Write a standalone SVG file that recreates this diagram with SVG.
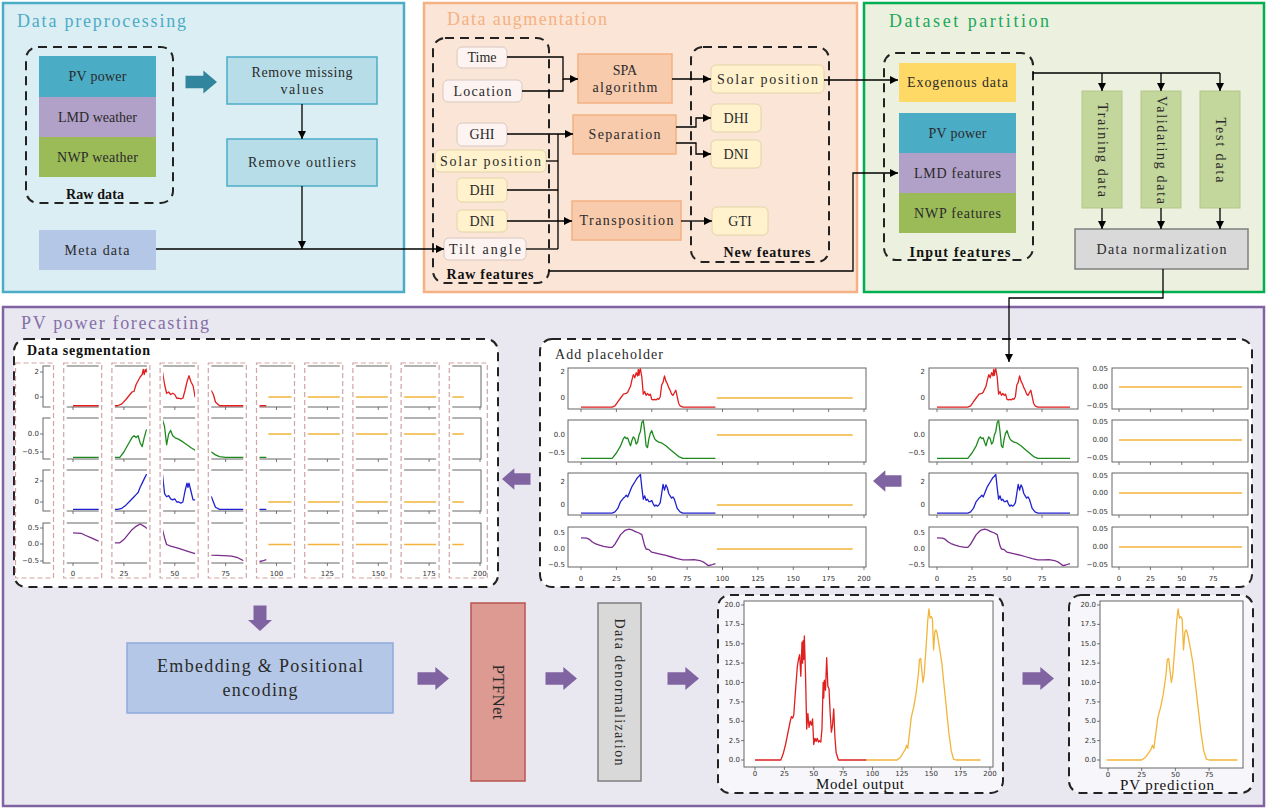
<svg xmlns="http://www.w3.org/2000/svg" xmlns:xlink="http://www.w3.org/1999/xlink" width="1267" height="809" viewBox="0 0 1267 809">
<defs>
<style>
text{font-family:"Liberation Serif","DejaVu Serif",serif;fill:#2a2a2a}
.t12{font-size:14px}
.bold{font-weight:bold;fill:#111}
.ttl{font-size:18px}
.c{text-anchor:middle;dominant-baseline:central}
.tk{font-family:"DejaVu Sans",sans-serif;font-size:7px;fill:#333}
.ty{text-anchor:end;dominant-baseline:central}
.tx{text-anchor:middle}
.ln{fill:none;stroke:#000;stroke-width:1.3}
.dsh{fill:none;stroke:#222;stroke-width:2;stroke-dasharray:9 6}
.dshw{fill:#fff;stroke:#222;stroke-width:2;stroke-dasharray:9 6}
.dshl{fill:#f7f6fa;stroke:#222;stroke-width:2;stroke-dasharray:9 6}
.ax{fill:#fff;stroke:#666;stroke-width:1}
.axn{fill:none;stroke:#666;stroke-width:1}
.col{fill:none;stroke:#d4a3a3;stroke-width:1.2;stroke-dasharray:5 3}
.s{fill:none;stroke-width:1.3;stroke-linejoin:round}
.r{stroke:#e01f1f}.g{stroke:#1e8a1e}.b{stroke:#2020d0}.p{stroke:#7a2d8c}.y{stroke:#f2b53a}
.pa{fill:#8064a2}
.tick{stroke:#555;stroke-width:0.8;fill:none}
.wb{fill:#fdf3f0;stroke:#d8c8c2;stroke-width:1}
.yb{fill:#fff2cc;stroke:#e3d4a8;stroke-width:1}
.ob{fill:#f8cbad;stroke:#f4b183;stroke-width:1.5}
.gb{fill:#c3d69b;stroke:#b3c78a;stroke-width:1}
</style>
<marker id="ah" viewBox="0 0 8 8" refX="8" refY="4" markerWidth="8" markerHeight="8" markerUnits="userSpaceOnUse" orient="auto">
<path d="M0,0 L8,4 L0,8 z" fill="#000"/>
</marker>
<path id="blk" d="M-30,-6.5 H-13 V-12 L0,0 L-13,12 V6.5 H-30 Z"/>
<polyline id="sR" vector-effect="non-scaling-stroke" points="0,-0.7 22,-0.7 24,-0.6 26,-0.3 28,0 30,0.3 32,0.35 33,0.45 35,0.9 36,1.4 37,1.8 38,1.55 39,1.95 40,1.7 40.5,2.2 41,1.75 41.5,2.1 42,2.25 43,1.6 44,0.3 45,0.5 46,0.2 47,0.35 48,0.2 49,0.3 50,-0.1 51,-0.15 52,-0.1 53,-0.15 54,-0.05 55,-0.1 56,0.1 57,1.0 58,1.2 59,1.7 60,1.3 61,1.1 62,0.8 63,0.6 64,0.3 65,0.2 66,0.4 67,0.6 68,0.1 69,-0.4 70,-0.6 72,-0.7 95,-0.7"/>
<polyline id="sG" vector-effect="non-scaling-stroke" points="0,-0.65 22,-0.65 25,-0.5 28,-0.3 30,-0.1 31,-0.05 32,-0.1 33,-0.08 34,-0.2 35,-0.3 36,-0.15 37,-0.05 38,-0.1 39,-0.25 40,-0.2 41,0 42,0.1 43,0.35 44,0.4 45,0.1 46,-0.3 47,-0.35 48,-0.1 49,0.05 50,0.12 51,0 52,-0.1 53,-0.15 55,-0.2 57,-0.22 60,-0.3 63,-0.4 66,-0.5 69,-0.6 72,-0.65 95,-0.65"/>
<polyline id="sB" vector-effect="non-scaling-stroke" points="0,-0.7 22,-0.7 24,-0.6 26,-0.3 28,0.3 30,0.6 31,0.7 32,0.85 33,0.7 34,1.0 36,1.6 38,2.0 40,2.4 41,2.5 42,2.65 43,1.5 44,0.5 45,0.8 46,0.4 47,0.5 48,0.3 49,0.3 50,0.4 51,0.1 52,-0.1 53,0 54,-0.1 55,0 56,0.2 57,1.0 58,1.8 59,1.3 60,1.75 61,1.5 62,1.0 63,0.8 64,0.6 65,0.7 66,0.5 67,0.1 68,-0.3 70,-0.6 72,-0.7 95,-0.7"/>
<polyline id="sP" vector-effect="non-scaling-stroke" points="0,0.35 4,0.34 6,0.3 8,0.22 10,0.17 13,0.12 16,0.08 20,0.05 22,0.05 24,0.15 26,0.3 28,0.45 31,0.58 34,0.62 36,0.6 38,0.55 41,0.5 43,0.45 45,0.1 46,0 48,-0.02 50,-0.1 53,-0.13 56,-0.16 60,-0.2 64,-0.25 68,-0.3 72,-0.34 76,-0.34 80,-0.33 84,-0.36 87,-0.42 90,-0.52 92,-0.5 95,-0.46"/>
<polyline id="sY" vector-effect="non-scaling-stroke" points="96,0 192,0"/>
<polyline id="qR" vector-effect="non-scaling-stroke" points="0,-0.7 22,-0.7 24,-0.55 26,-0.2 28,0.2 29,0.4 30,0.45 31,1.0 32,1.3 33,1.6 34,1.8 34.5,2.2 35,1.8 35.5,2.2 36,2.0 36.5,2.3 44,2.0 45,1.0 46,0.3 47,0.4 48,0.2 49,0.3 50,0.2 51,-0.1 52,-0.1 53,-0.15 54,-0.1 55,0.5 56,1.2 57,1.7 58,1.2 59,0.9 60,0 68,0.5 69,0.2 70,-0.4 72,-0.7 95,-0.7"/>
<polyline id="qG" vector-effect="non-scaling-stroke" points="0,-0.65 23,-0.65 25,-0.5 27,-0.3 29,-0.1 30,-0.05 31,-0.1 32,-0.05 33,-0.25 34,-0.35 35,-0.1 36,0.1 44,0.4 45,0.2 46,-0.3 47,0 48,0.1 49,-0.05 50,-0.1 52,-0.15 54,-0.22 56,-0.3 58,-0.38 60,-0.45 68,-0.5 70,-0.58 72,-0.63 75,-0.65 95,-0.65"/>
<polyline id="qB" vector-effect="non-scaling-stroke" points="0,-0.7 22,-0.7 24,-0.6 26,-0.3 28,0.1 30,0.5 31,0.7 32,0.9 33,1.4 34,1.8 35,2.2 36,2.6 44,2.6 45,0.8 46,0.5 47,0.6 48,0.3 49,0.2 50,0.3 51,0 52,0 53,-0.1 54,0 55,1.0 56,1.8 56.5,1.4 57,1.8 58,1.0 59,0.2 60,0.2 68,0.5 69,0 70,-0.5 72,-0.7 95,-0.7"/>
<polyline id="qP" vector-effect="non-scaling-stroke" points="0,0.35 4,0.34 6,0.28 9,0.2 12,0.12 14,0.08 21,0.05 23,0.05 25,0.15 27,0.3 29,0.45 31,0.55 33,0.62 35,0.55 36,0.5 44,0.45 45,0.2 46,0 48,-0.05 52,-0.12 56,-0.2 60,-0.28 68,-0.32 74,-0.34 78,-0.35 81,-0.4 84,-0.5 91,-0.52 93,-0.5 95,-0.46"/>
<polyline id="kR" vector-effect="non-scaling-stroke" points="0,0 22,0 24,0.8 26,2 28,3.5 30,5 31,5.6 32,5.4 33,5.8 34,8 35,10 36,12 37,13 38,13.6 39,10.8 40,15.2 40.5,12.5 41,15.4 41.5,13 42,16 43,11 44,4 45,6 46,4.2 47,5 48,4.5 49,5.3 50,2 51,2.8 52,2.4 53,2.8 54,2.3 55,2.5 56,2.3 57,4 58,10 58.5,8 59,10.3 60,9 61,13.2 62,9.5 63,9.2 64,6 65,3.6 66,4.5 67,6.6 68,3 69,1 71,0 95,0"/>
<polyline id="kY" vector-effect="non-scaling-stroke" points="95,0 121,0 124,0.4 126,0.9 128,1.4 129,1.9 130,1.5 131,2.8 133,5.5 135,6.8 137,8.5 139,11 140,13 141,13.1 142,11.5 143,10 144,11 146,15.5 147,18 148,19.5 149,18.3 150,18.5 151,18.2 152,14.2 153,16.5 154,16.8 155,16.3 157,14.5 159,12.5 161,9.5 163,6.5 165,3.5 167,1.2 169,0.1 171,0 192,0"/>
<path id="tkS" d="M73,0v3M123.9,0v3M174.8,0v3M225.6,0v3M276.5,0v3M327.4,0v3M378.3,0v3M429.1,0v3M480,0v3"/>
<path id="tkA" d="M581,0v3M616.4,0v3M651.8,0v3M687.1,0v3M722.5,0v3M757.9,0v3M793.3,0v3M828.6,0v3M864,0v3"/>
<path id="tkL" d="M937,0v3M972,0v3M1007,0v3M1042,0v3"/>
<path id="tkR" d="M1119,0v3M1150.4,0v3M1181.8,0v3M1213.2,0v3"/>
<clipPath id="segClip">
<rect x="18.5" y="364" width="32" height="211"/>
<rect x="66.7" y="364" width="32" height="211"/>
<rect x="114.9" y="364" width="32" height="211"/>
<rect x="163.1" y="364" width="32" height="211"/>
<rect x="211.3" y="364" width="32" height="211"/>
<rect x="259.5" y="364" width="32" height="211"/>
<rect x="307.7" y="364" width="32" height="211"/>
<rect x="355.9" y="364" width="32" height="211"/>
<rect x="404.1" y="364" width="32" height="211"/>
<rect x="452.3" y="364" width="32" height="211"/>
</clipPath>
</defs>

<!-- Panels -->
<g id="panel-preprocessing">
<rect x="3" y="3" width="401" height="289" fill="#dbeef3" stroke="#4bacc6" stroke-width="2.5"/>
<text x="17" y="27" class="ttl" style="fill:#4bacc6" textLength="169">Data preprocessing</text>
</g>
<g id="panel-augmentation">
<rect x="424" y="3" width="433" height="289" fill="#fbe5d6" stroke="#f4b183" stroke-width="2.5"/>
<text x="447" y="25" class="ttl" style="fill:#f4b183" textLength="160">Data augmentation</text>
</g>
<g id="panel-partition">
<rect x="864" y="3" width="400" height="289" fill="#ebf1de" stroke="#00b050" stroke-width="2.5"/>
<text x="889" y="27" class="ttl" style="fill:#20a85a" textLength="160">Dataset partition</text>
</g>
<g id="panel-forecasting">
<rect x="3" y="307" width="1261" height="499" fill="#e9e7f0" stroke="#8064a2" stroke-width="2.5"/>
<text x="21" y="329" class="ttl" style="fill:#8470a8" textLength="188">PV power forecasting</text>
</g>

<!-- Data preprocessing nodes -->
<g id="raw-data">
<rect x="26" y="47" width="147" height="156" rx="12" class="dsh"/>
<rect x="39" y="56" width="117" height="41" fill="#4bacc6"/>
<text x="97.5" y="76.5" class="t12 c" textLength="58">PV power</text>
<rect x="39" y="97" width="117" height="40" fill="#b1a0c7"/>
<text x="97.5" y="117" class="t12 c" textLength="79">LMD weather</text>
<rect x="39" y="137" width="117" height="40" fill="#9bbb59"/>
<text x="97.5" y="157" class="t12 c" textLength="81">NWP weather</text>
<text x="95" y="194" class="t12 c bold" textLength="58">Raw data</text>
</g>
<g id="teal-arrow"><use xlink:href="#blk" transform="translate(217,82) scale(1.05,0.95)" fill="#31859c"/></g>
<g id="remove-missing">
<rect x="227" y="57" width="150" height="47" fill="#b7dee8" stroke="#4bacc6" stroke-width="1.5"/>
<text x="302" y="72" class="t12 c" textLength="101">Remove missing</text>
<text x="302" y="89" class="t12 c" textLength="43">values</text>
</g>
<g id="remove-outliers">
<rect x="227" y="139" width="150" height="47" fill="#b7dee8" stroke="#4bacc6" stroke-width="1.5"/>
<text x="302" y="162.5" class="t12 c" textLength="108">Remove outliers</text>
</g>
<g id="meta-data">
<rect x="39" y="230" width="117" height="40" fill="#b4c7e7"/>
<text x="97" y="250" class="t12 c" textLength="65">Meta data</text>
</g>

<!-- Data augmentation nodes -->
<g id="raw-features">
<rect x="433" y="38" width="116" height="245" rx="12" class="dsh"/>
<text x="490" y="274" class="t12 c bold" textLength="87">Raw features</text>
<rect x="457" y="47" width="50" height="21" rx="5" class="wb"/><text x="482" y="57.5" class="t12 c">Time</text>
<rect x="443" y="80" width="79" height="22" rx="5" class="wb"/><text x="482.5" y="91" class="t12 c" textLength="58">Location</text>
<rect x="457" y="123" width="50" height="23" rx="5" class="wb"/><text x="482" y="134.5" class="t12 c">GHI</text>
<rect x="435" y="150" width="111" height="22" rx="5" class="yb"/><text x="490.5" y="161" class="t12 c" textLength="101">Solar position</text>
<rect x="457" y="178" width="50" height="24" rx="5" class="yb"/><text x="482" y="190" class="t12 c">DHI</text>
<rect x="457" y="210" width="50" height="22" rx="5" class="yb"/><text x="482" y="221" class="t12 c">DNI</text>
<rect x="444" y="238" width="82" height="22" rx="5" class="wb"/><text x="485" y="249" class="t12 c" textLength="72">Tilt angle</text>
</g>
<g id="spa">
<rect x="578" y="54" width="94" height="49" class="ob"/>
<text x="625" y="70" class="t12 c">SPA</text>
<text x="625" y="87" class="t12 c" textLength="65">algorithm</text>
</g>
<g id="separation">
<rect x="573" y="115" width="103" height="39" class="ob"/>
<text x="624.5" y="134.5" class="t12 c" textLength="72">Separation</text>
</g>
<g id="transposition">
<rect x="572" y="201" width="109" height="39" class="ob"/>
<text x="626.5" y="220.5" class="t12 c" textLength="94">Transposition</text>
</g>
<g id="new-features">
<rect x="691" y="47" width="138" height="215" rx="12" class="dsh"/>
<text x="767" y="252" class="t12 c bold" textLength="87">New features</text>
<rect x="711" y="65" width="113" height="28" rx="5" class="yb"/><text x="767.5" y="79" class="t12 c" textLength="101">Solar position</text>
<rect x="711" y="104" width="50" height="28" rx="5" class="yb"/><text x="736" y="118" class="t12 c">DHI</text>
<rect x="711" y="140" width="50" height="28" rx="5" class="yb"/><text x="736" y="154" class="t12 c">DNI</text>
<rect x="712" y="207" width="56" height="28" rx="5" class="yb"/><text x="740" y="221" class="t12 c">GTI</text>
</g>

<!-- Dataset partition nodes -->
<g id="input-features">
<rect x="884" y="53" width="149" height="207" rx="12" class="dsh"/>
<rect x="899" y="63" width="117" height="39" fill="#ffd966"/><text x="957.5" y="82.5" class="t12 c" textLength="101">Exogenous data</text>
<rect x="899" y="113" width="117" height="40" fill="#4bacc6"/><text x="957.5" y="133" class="t12 c" textLength="58">PV power</text>
<rect x="899" y="153" width="117" height="40" fill="#b1a0c7"/><text x="957.5" y="173" class="t12 c" textLength="87">LMD features</text>
<rect x="899" y="193" width="117" height="40" fill="#9bbb59"/><text x="957.5" y="213" class="t12 c" textLength="87">NWP features</text>
<text x="960" y="252" class="t12 c bold" textLength="101">Input features</text>
</g>
<g id="training-data">
<rect x="1082" y="91" width="40" height="117" class="gb"/>
<text transform="translate(1102,150) rotate(90)" class="t12 c" textLength="94">Training data</text>
</g>
<g id="validating-data">
<rect x="1141" y="91" width="40" height="117" class="gb"/>
<text transform="translate(1161,150) rotate(90)" class="t12 c" textLength="108">Validating data</text>
</g>
<g id="test-data">
<rect x="1200" y="91" width="40" height="117" class="gb"/>
<text transform="translate(1220,150) rotate(90)" class="t12 c" textLength="65">Test data</text>
</g>
<g id="data-normalization">
<rect x="1075" y="229" width="173" height="40" fill="#d9d9d9" stroke="#7f7f7f" stroke-width="1.5"/>
<text x="1161.5" y="249" class="t12 c" textLength="130">Data normalization</text>
</g>

<!-- Data segmentation -->
<g id="data-segmentation">
<rect x="14" y="339" width="484" height="248" rx="12" class="dshw"/>
<text x="27" y="350" class="t12 bold" dominant-baseline="central" textLength="123">Data segmentation</text>
<g>
<rect x="15.5" y="363" width="38" height="215" class="col"/>
<rect x="63.7" y="363" width="38" height="215" class="col"/>
<rect x="111.9" y="363" width="38" height="215" class="col"/>
<rect x="160.1" y="363" width="38" height="215" class="col"/>
<rect x="208.3" y="363" width="38" height="215" class="col"/>
<rect x="256.5" y="363" width="38" height="215" class="col"/>
<rect x="304.7" y="363" width="38" height="215" class="col"/>
<rect x="352.9" y="363" width="38" height="215" class="col"/>
<rect x="401.1" y="363" width="38" height="215" class="col"/>
<rect x="449.3" y="363" width="38" height="215" class="col"/>
</g>
<g clip-path="url(#segClip)">
<rect x="43" y="366" width="438" height="41" class="axn"/>
<rect x="43" y="418" width="438" height="41" class="axn"/>
<rect x="43" y="470" width="438" height="41" class="axn"/>
<rect x="43" y="523" width="438" height="40" class="axn"/>
<use xlink:href="#tkS" transform="translate(0,407)" class="tick"/>
<use xlink:href="#tkS" transform="translate(0,459)" class="tick"/>
<use xlink:href="#tkS" transform="translate(0,511)" class="tick"/>
<use xlink:href="#tkS" transform="translate(0,563)" class="tick"/>
<path class="tick" d="M40,372h3M40,397h3M40,434h3M40,452h3M40,481h3M40,502h3M40,528h3M40,544h3M40,561h3"/>
<use xlink:href="#qR" class="s r" transform="translate(73,397) scale(2.035,-12.5)"/>
<use xlink:href="#sY" class="s y" transform="translate(73,397) scale(2.035,-12.5)"/>
<use xlink:href="#qG" class="s g" transform="translate(73,434) scale(2.035,-36)"/>
<use xlink:href="#sY" class="s y" transform="translate(73,434) scale(2.035,-36)"/>
<use xlink:href="#qB" class="s b" transform="translate(73,502) scale(2.035,-10.5)"/>
<use xlink:href="#sY" class="s y" transform="translate(73,502) scale(2.035,-10.5)"/>
<use xlink:href="#qP" class="s p" transform="translate(73,544.5) scale(2.035,-33)"/>
<use xlink:href="#sY" class="s y" transform="translate(73,544.5) scale(2.035,-33)"/>
</g>
<g>
<text x="39" y="372" class="tk ty">2</text><text x="39" y="397" class="tk ty">0</text>
<text x="39" y="434" class="tk ty">0.0</text><text x="39" y="452" class="tk ty">−0.5</text>
<text x="39" y="481" class="tk ty">2</text><text x="39" y="502" class="tk ty">0</text>
<text x="39" y="528" class="tk ty">0.5</text><text x="39" y="544" class="tk ty">0.0</text><text x="39" y="561" class="tk ty">−0.5</text>
</g>
<g>
<text x="73" y="576" class="tk tx">0</text><text x="123.9" y="576" class="tk tx">25</text><text x="174.8" y="576" class="tk tx">50</text>
<text x="225.6" y="576" class="tk tx">75</text><text x="276.5" y="576" class="tk tx">100</text><text x="327.4" y="576" class="tk tx">125</text>
<text x="378.3" y="576" class="tk tx">150</text><text x="429.1" y="576" class="tk tx">175</text><text x="480" y="576" class="tk tx">200</text>
</g>
</g>

<!-- Add placeholder -->
<g id="add-placeholder">
<rect x="540" y="339" width="712" height="248" rx="12" class="dshw"/>
<text x="555" y="354" class="t12" dominant-baseline="central" textLength="108">Add placeholder</text>
<rect x="568" y="368" width="298" height="41" class="ax"/>
<rect x="568" y="420" width="298" height="42" class="ax"/>
<rect x="568" y="473" width="298" height="42" class="ax"/>
<rect x="568" y="527" width="298" height="40" class="ax"/>
<use xlink:href="#tkA" transform="translate(0,409)" class="tick"/>
<use xlink:href="#tkA" transform="translate(0,462)" class="tick"/>
<use xlink:href="#tkA" transform="translate(0,515)" class="tick"/>
<use xlink:href="#tkA" transform="translate(0,567)" class="tick"/>
<use xlink:href="#sR" class="s r" transform="translate(581,398) scale(1.415,-13)"/>
<use xlink:href="#sY" class="s y" transform="translate(581,398) scale(1.415,-13)"/>
<use xlink:href="#sG" class="s g" transform="translate(581,435) scale(1.415,-36)"/>
<use xlink:href="#sY" class="s y" transform="translate(581,435) scale(1.415,-36)"/>
<use xlink:href="#sB" class="s b" transform="translate(581,505) scale(1.415,-11.5)"/>
<use xlink:href="#sY" class="s y" transform="translate(581,505) scale(1.415,-11.5)"/>
<use xlink:href="#sP" class="s p" transform="translate(581,549) scale(1.415,-32)"/>
<use xlink:href="#sY" class="s y" transform="translate(581,549) scale(1.415,-32)"/>
<text x="565" y="372" class="tk ty">2</text><text x="565" y="398" class="tk ty">0</text>
<text x="565" y="435" class="tk ty">0.0</text><text x="565" y="453" class="tk ty">−0.5</text>
<text x="565" y="482" class="tk ty">2</text><text x="565" y="505" class="tk ty">0</text>
<text x="565" y="533" class="tk ty">0.5</text><text x="565" y="549" class="tk ty">0.0</text><text x="565" y="565" class="tk ty">−0.5</text>
<text x="581" y="581" class="tk tx">0</text><text x="616.4" y="581" class="tk tx">25</text><text x="651.8" y="581" class="tk tx">50</text>
<text x="687.1" y="581" class="tk tx">75</text><text x="722.5" y="581" class="tk tx">100</text><text x="757.9" y="581" class="tk tx">125</text>
<text x="793.3" y="581" class="tk tx">150</text><text x="828.6" y="581" class="tk tx">175</text><text x="864" y="581" class="tk tx">200</text>

<rect x="929" y="368" width="149" height="41" class="ax"/>
<rect x="929" y="420" width="149" height="42" class="ax"/>
<rect x="929" y="473" width="149" height="42" class="ax"/>
<rect x="929" y="527" width="149" height="40" class="ax"/>
<use xlink:href="#tkL" transform="translate(0,409)" class="tick"/>
<use xlink:href="#tkL" transform="translate(0,462)" class="tick"/>
<use xlink:href="#tkL" transform="translate(0,515)" class="tick"/>
<use xlink:href="#tkL" transform="translate(0,567)" class="tick"/>
<use xlink:href="#sR" class="s r" transform="translate(937,398) scale(1.4,-13)"/>
<use xlink:href="#sG" class="s g" transform="translate(937,435) scale(1.4,-36)"/>
<use xlink:href="#sB" class="s b" transform="translate(937,505) scale(1.4,-11.5)"/>
<use xlink:href="#sP" class="s p" transform="translate(937,549) scale(1.4,-32)"/>
<text x="925" y="372" class="tk ty">2</text><text x="925" y="398" class="tk ty">0</text>
<text x="925" y="435" class="tk ty">0.0</text><text x="925" y="453" class="tk ty">−0.5</text>
<text x="925" y="482" class="tk ty">2</text><text x="925" y="505" class="tk ty">0</text>
<text x="925" y="533" class="tk ty">0.5</text><text x="925" y="549" class="tk ty">0.0</text><text x="925" y="565" class="tk ty">−0.5</text>
<text x="937" y="581" class="tk tx">0</text><text x="972" y="581" class="tk tx">25</text><text x="1007" y="581" class="tk tx">50</text><text x="1042" y="581" class="tk tx">75</text>

<rect x="1112" y="368" width="136" height="41" class="ax"/>
<rect x="1112" y="420" width="136" height="42" class="ax"/>
<rect x="1112" y="473" width="136" height="42" class="ax"/>
<rect x="1112" y="527" width="136" height="40" class="ax"/>
<use xlink:href="#tkR" transform="translate(0,409)" class="tick"/>
<use xlink:href="#tkR" transform="translate(0,462)" class="tick"/>
<use xlink:href="#tkR" transform="translate(0,515)" class="tick"/>
<use xlink:href="#tkR" transform="translate(0,567)" class="tick"/>
<path class="s y" d="M1119,387H1242M1119,440H1242M1119,493H1242M1119,547H1242"/>
<text x="1108" y="369" class="tk ty">0.05</text><text x="1108" y="387" class="tk ty">0.00</text><text x="1108" y="406" class="tk ty">−0.05</text>
<text x="1108" y="422" class="tk ty">0.05</text><text x="1108" y="440" class="tk ty">0.00</text><text x="1108" y="458" class="tk ty">−0.05</text>
<text x="1108" y="476" class="tk ty">0.05</text><text x="1108" y="493" class="tk ty">0.00</text><text x="1108" y="512" class="tk ty">−0.05</text>
<text x="1108" y="529" class="tk ty">0.05</text><text x="1108" y="547" class="tk ty">0.00</text><text x="1108" y="565" class="tk ty">−0.05</text>
<text x="1119" y="581" class="tk tx">0</text><text x="1150.4" y="581" class="tk tx">25</text><text x="1181.8" y="581" class="tk tx">50</text><text x="1213.2" y="581" class="tk tx">75</text>
</g>

<!-- Bottom row -->
<g id="embedding">
<rect x="127" y="643" width="266" height="70" fill="#b4c7e7" stroke="#8eaadb" stroke-width="1.5"/>
<text x="260" y="666" class="c" style="font-size:18px" textLength="206">Embedding &amp; Positional</text>
<text x="260" y="690" class="c" style="font-size:18px" textLength="75">encoding</text>
</g>
<g id="ptfnet">
<rect x="471" y="603" width="54" height="178" fill="#dd9a92" stroke="#b85450" stroke-width="1.5"/>
<text transform="translate(498,692) rotate(90)" class="c" style="font-size:17px" textLength="55">PTFNet</text>
</g>
<g id="data-denormalization">
<rect x="598" y="603" width="43" height="178" fill="#d9d9d9" stroke="#7f7f7f" stroke-width="1.5"/>
<text transform="translate(619.5,692) rotate(90)" class="t12 c" textLength="147">Data denormalization</text>
</g>
<g id="model-output">
<rect x="718" y="595" width="285" height="198" rx="12" class="dshl"/>
<rect x="744" y="601" width="249" height="166" class="ax"/>
<path class="tick" d="M741,605h3M741,624.4h3M741,643.8h3M741,663.1h3M741,682.5h3M741,701.9h3M741,721.3h3M741,740.6h3M741,760h3M755,767v3M784.4,767v3M813.8,767v3M843.1,767v3M872.5,767v3M901.9,767v3M931.3,767v3M960.6,767v3M990,767v3"/>
<use xlink:href="#kR" class="s r" transform="translate(755,760) scale(1.175,-7.75)"/>
<use xlink:href="#kY" class="s y" transform="translate(755,760) scale(1.175,-7.75)"/>
<text x="740" y="605" class="tk ty">20.0</text><text x="740" y="624.4" class="tk ty">17.5</text><text x="740" y="643.8" class="tk ty">15.0</text>
<text x="740" y="663.1" class="tk ty">12.5</text><text x="740" y="682.5" class="tk ty">10.0</text><text x="740" y="701.9" class="tk ty">7.5</text>
<text x="740" y="721.3" class="tk ty">5.0</text><text x="740" y="740.6" class="tk ty">2.5</text><text x="740" y="760" class="tk ty">0.0</text>
<text x="755" y="776" class="tk tx">0</text><text x="784.4" y="776" class="tk tx">25</text><text x="813.8" y="776" class="tk tx">50</text>
<text x="843.1" y="776" class="tk tx">75</text><text x="872.5" y="776" class="tk tx">100</text><text x="901.9" y="776" class="tk tx">125</text>
<text x="931.3" y="776" class="tk tx">150</text><text x="960.6" y="776" class="tk tx">175</text><text x="990" y="776" class="tk tx">200</text>
<text x="860" y="784" class="c" style="font-size:15px;fill:#111" textLength="88">Model output</text>
</g>
<g id="pv-prediction">
<rect x="1069" y="595" width="184" height="198" rx="12" class="dshl"/>
<rect x="1100" y="601" width="143" height="167" class="ax"/>
<path class="tick" d="M1097,605h3M1097,624.4h3M1097,643.8h3M1097,663.1h3M1097,682.5h3M1097,701.9h3M1097,721.3h3M1097,740.6h3M1097,760h3M1108,768v3M1141.7,768v3M1175.4,768v3M1209.1,768v3"/>
<use xlink:href="#kY" class="s y" transform="translate(978.6,760) scale(1.348,-7.75)"/>
<text x="1096" y="605" class="tk ty">20.0</text><text x="1096" y="624.4" class="tk ty">17.5</text><text x="1096" y="643.8" class="tk ty">15.0</text>
<text x="1096" y="663.1" class="tk ty">12.5</text><text x="1096" y="682.5" class="tk ty">10.0</text><text x="1096" y="701.9" class="tk ty">7.5</text>
<text x="1096" y="721.3" class="tk ty">5.0</text><text x="1096" y="740.6" class="tk ty">2.5</text><text x="1096" y="760" class="tk ty">0.0</text>
<text x="1108" y="777" class="tk tx">0</text><text x="1141.7" y="777" class="tk tx">25</text><text x="1175.4" y="777" class="tk tx">50</text><text x="1209.1" y="777" class="tk tx">75</text>
<text x="1167" y="785" class="c" style="font-size:15px;fill:#111" textLength="94">PV prediction</text>
</g>

<!-- Block arrows -->
<g id="flow-arrows" class="pa">
<use xlink:href="#blk" transform="translate(502,479) rotate(180) scale(0.95,0.9)"/>
<use xlink:href="#blk" transform="translate(873,481) rotate(180) scale(0.95,0.9)"/>
<use xlink:href="#blk" transform="translate(260,631) rotate(90) scale(0.85,1)"/>
<use xlink:href="#blk" transform="translate(449,678.5) scale(1.05,0.95)"/>
<use xlink:href="#blk" transform="translate(577,678.5) scale(1.05,0.95)"/>
<use xlink:href="#blk" transform="translate(699,678.5) scale(1.05,0.95)"/>
<use xlink:href="#blk" transform="translate(1054,678.5) scale(1.05,0.95)"/>
</g>

<!-- Connectors -->
<g id="connectors">
<path class="ln" d="M302,104V139" marker-end="url(#ah)"/>
<path class="ln" d="M302,186V249" marker-end="url(#ah)"/>
<path class="ln" d="M156,249H444" marker-end="url(#ah)"/>
<path class="ln" d="M507,57H563V79H578" marker-end="url(#ah)"/>
<path class="ln" d="M522,91H563V79"/>
<path class="ln" d="M672,79H711" marker-end="url(#ah)"/>
<path class="ln" d="M507,134H573" marker-end="url(#ah)"/>
<path class="ln" d="M558,134V249"/>
<path class="ln" d="M546,161H558"/>
<path class="ln" d="M507,190H558"/>
<path class="ln" d="M507,221H572" marker-end="url(#ah)"/>
<path class="ln" d="M526,249H558"/>
<path class="ln" d="M676,127H696V118H711" marker-end="url(#ah)"/>
<path class="ln" d="M676,143H696V154H711" marker-end="url(#ah)"/>
<path class="ln" d="M681,221H712" marker-end="url(#ah)"/>
<path class="ln" d="M549,271H853V173H898" marker-end="url(#ah)"/>
<path class="ln" d="M824,80H898" marker-end="url(#ah)"/>
<path class="ln" d="M1033,73H1220"/>
<path class="ln" d="M1102,73V91" marker-end="url(#ah)"/>
<path class="ln" d="M1161,73V91" marker-end="url(#ah)"/>
<path class="ln" d="M1220,73V91" marker-end="url(#ah)"/>
<path class="ln" d="M1102,208V229" marker-end="url(#ah)"/>
<path class="ln" d="M1161,208V229" marker-end="url(#ah)"/>
<path class="ln" d="M1220,208V229" marker-end="url(#ah)"/>
<path class="ln" d="M1163,269V298H1009V362" marker-end="url(#ah)"/>
</g>
</svg>
